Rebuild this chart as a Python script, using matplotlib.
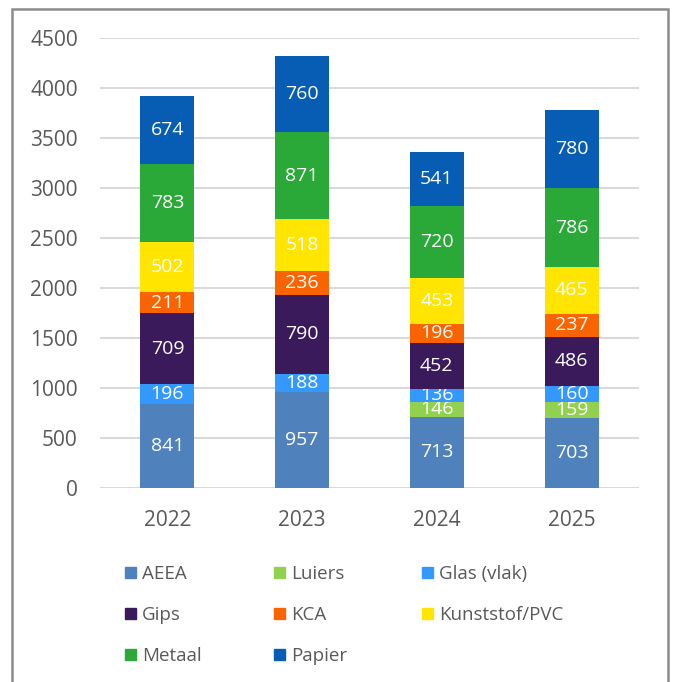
import matplotlib
matplotlib.use("Agg")
import matplotlib.pyplot as plt
from matplotlib.patches import Rectangle
import numpy as np

plt.rcParams['font.family'] = ['Open Sans', 'DejaVu Sans']

years = ["2022", "2023", "2024", "2025"]
series = ["AEEA", "Luiers", "Glas (vlak)", "Gips", "KCA", "Kunststof/PVC", "Metaal", "Papier"]
aeea = [841, 957, 713, 703]
luiers = [0, 0, 146, 159]
glas = [196, 188, 136, 160]
gips = [709, 790, 452, 486]
kca = [211, 236, 196, 237]
kunststof = [502, 518, 453, 465]
metaal = [783, 871, 720, 786]
papier = [674, 760, 541, 780]
values = [aeea, luiers, glas, gips, kca, kunststof, metaal, papier]
colors = ["#4f81bd", "#92d050", "#3399ff", "#3b1a5c", "#fa6400", "#ffe500", "#2aa838", "#075db3"]
yticks = [0, 500, 1000, 1500, 2000, 2500, 3000, 3500, 4000, 4500]

W, H = 673, 682
fig = plt.figure(figsize=(W / 100, H / 100), dpi=100)
ax = fig.add_axes([100 / W, 1 - 488 / H, (639 - 100) / W, 450 / H])

x = np.arange(len(years))
bottom = np.zeros(len(years))
for name, vals, col in zip(series, values, colors):
    v = np.array(vals, dtype=float)
    bars = ax.bar(x, v, width=0.4, bottom=bottom, color=col, label=name, zorder=3)
    labels = [str(int(val)) if val > 0 else "" for val in v]
    ax.bar_label(bars, labels=labels, label_type='center', color='white', fontsize=14)
    bottom += v

ax.set_xlim(-0.5, 3.5)
ax.set_ylim(0, 4500)
ax.set_yticks(yticks)
ax.set_yticklabels([str(t) for t in yticks])
ax.set_xticks(x)
ax.set_xticklabels(years)
ax.tick_params(axis='both', length=0, labelsize=15, colors='#595959')
ax.tick_params(axis='y', pad=16)
ax.tick_params(axis='x', pad=16)
ax.grid(axis='y', color='#d9d9d9', linewidth=1.5, zorder=0)
for s in ax.spines.values():
    s.set_visible(False)

# legend (row-wise, 3 columns)
col_x = [125, 274, 422]
row_y = [572, 613, 654]
for i, (name, col) in enumerate(zip(series, colors)):
    r, c = divmod(i, 3)
    px, py = col_x[c], row_y[r]
    fig.add_artist(Rectangle((px / W, 1 - (py + 5.5) / H), 11 / W, 11 / H,
                             transform=fig.transFigure, color=col))
    fig.text((px + 17) / W, 1 - py / H, name, fontsize=13.5, color='#595959',
             va='center_baseline', ha='left')

# outer border
fig.add_artist(Rectangle((12 / W, -0.05), (668 - 12) / W, 1 - 9 / H + 0.05,
                         transform=fig.transFigure, fill=False,
                         edgecolor='#8c8c8c', linewidth=1.8))

fig.savefig("out.png", dpi=100)
